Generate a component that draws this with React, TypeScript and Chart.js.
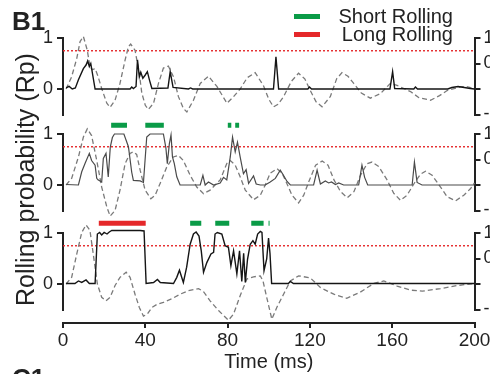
import React, { useEffect, useRef } from 'react';
import { Chart, registerables } from 'chart.js';

Chart.register(...registerables);

type Pt = [number, number];

const FONT = '"Liberation Sans", Arial, Helvetica, sans-serif';
const AXIS = '#222222';
const GREEN = '#0a9b47';
const RED = '#e5282a';
const DASH_GRAY = '#7a7a7a';

// ---------- data ----------
const timeTicks = [0, 40, 80, 120, 160, 200];
const leftTicks = [0, 1];
const rightTicks = [-0.5, 0, 0.5, 1];
const rightTickLabels = ['-0.5', '', '0.5', '1'];
const threshold = 0.75;
const legendLabels = ['Short Rolling', 'Long Rolling'];

const panel1Rp: Pt[] = [
  [1.5, 0.02], [3, 0.05], [4.5, 0], [6, 0.02], [7.5, 0.18], [9.9, 0.4], [11.2, 0.47], [12, 0.55],
  [12.8, 0.44], [13.5, 0.5], [15.6, 0], [32.6, 0], [33.4, 0.04], [34.2, 0.01], [35.5, 0.05], [36.2, 0.57],
  [37.1, 0.24], [37.8, 0.33], [38.8, 0.21], [39.9, 0.27], [41, 0.34], [42, 0.18], [43.2, 0.01], [51, 0.02],
  [52.1, 0.34], [53.5, 0.03], [61, 0], [62, 0.02], [63, 0], [102.3, 0], [103.5, 0.63], [104.8, 0],
  [119, 0], [119.8, 0.04], [120.8, 0], [158.9, 0], [160.2, 0.34], [161.2, 0.01], [170.5, 0], [171.3, 0.04],
  [172.3, 0], [187, 0], [189, 0.03], [192, 0.05], [195, 0.03], [198, 0.01], [200, 0],
];
const panel1Osc: Pt[] = [
  [1.5, 0], [4.2, 0.24], [6.7, 0.6], [8.3, 0.93], [9.9, 1.03], [11.8, 0.76], [13.1, 0.44], [14.3, 0.38],
  [15.6, 0.4], [17, 0.25], [18.8, 0.01], [21.3, -0.28], [22.9, -0.36], [25.3, -0.22], [27.7, 0.11], [30.2, 0.57],
  [31.8, 0.83], [32.9, 0.88], [35, 0.76], [37, 0.33], [38.3, -0.08], [40, -0.32], [41.5, -0.4], [44, -0.28],
  [46.4, 0.11], [48.8, 0.41], [51.2, 0.45], [53.7, 0.24], [56.1, -0.15], [58.5, -0.38], [60.2, -0.45], [63.4, -0.22],
  [66.7, 0.11], [70.7, 0.25], [74.8, 0.05], [79.7, -0.28], [82.9, -0.15], [86.1, 0], [89.5, 0.22], [93.4, 0.32],
  [97.5, 0.06], [100, -0.2], [102.3, -0.35], [104.5, -0.3], [107.2, -0.15], [111, 0.15], [114.5, 0.31], [117.5, 0.2],
  [120.2, -0.03], [123, -0.25], [125.9, -0.35], [129.9, -0.15], [133, 0.2], [135.6, 0.32], [138.5, 0.25], [141.3, 0.11],
  [145, -0.08], [149.4, -0.18], [154.3, -0.09], [159.1, 0.11], [162.4, 0.07], [168.9, -0.05], [173, -0.17], [178.6, -0.22],
  [183, -0.13], [186.7, -0.03], [193.2, 0.04], [196, 0.05], [200, 0.01],
];

const panel2Rp: Pt[] = [
  [1.5, 0.01], [7.5, 0], [9.1, 0.26], [10.7, 0.42], [12.8, 0.62], [13.9, 0.48], [15.6, 0.39], [16.4, 0.13],
  [17, 0.1], [18.8, 0.06], [19.6, 0.52], [20.9, 0.62], [22, 0.16], [23, 0.75], [24, 0.93], [25, 1],
  [29.6, 1], [31.8, 0.75], [33.4, 0.25], [34.2, 0.09], [37.5, 0.08], [39.1, 0.05], [40.7, 0.94], [42.3, 1],
  [48.8, 1], [50, 0.73], [50.7, 0.42], [51.7, 0.81], [52.5, 0.98], [53.2, 0.55], [54.1, 0.42], [55.3, 0.16],
  [56.9, 0], [66.7, 0], [68, 0.19], [69.1, 0], [70.7, 0.06], [73.2, 0], [76.4, 0.04], [78, 0.15],
  [79.6, 0.1], [81.3, 0.55], [82.4, 0.94], [83.7, 0.65], [84.8, 0.84], [86.1, 0.55], [87.7, 0.22], [89, 0.3],
  [90.2, 0.03], [92.6, 0.18], [93.9, 0.02], [95.9, 0], [98.3, 0], [100.7, 0.06], [103.2, 0.13], [105.6, 0.29],
  [107, 0.2], [108.9, 0.07], [110.5, 0], [121.8, 0], [123.5, 0.29], [125.1, 0.02], [127.5, 0.08], [129.1, 0.04],
  [130.5, 0.06], [132.4, 0.01], [134, 0.04], [136.4, 0], [143.7, 0], [145.3, 0.39], [146.6, 0.15], [148.1, 0],
  [169.7, 0], [170.8, 0.45], [172.1, 0.05], [174.5, 0], [200, 0],
];
const panel2Osc: Pt[] = [
  [1.5, 0], [4.2, 0.13], [7.5, 0.55], [9.9, 0.94], [11.8, 1.1], [13.9, 0.97], [16.4, 0.48], [18.8, -0.04],
  [21.3, -0.43], [22.9, -0.61], [25.3, -0.5], [27.7, -0.1], [30.2, 0.42], [32.6, 0.62], [34.2, 0.65], [35.8, 0.6],
  [37.5, 0.29], [39.9, -0.1], [42.7, -0.27], [44.8, -0.2], [47.2, 0.03], [50.4, 0.35], [53.6, 0.55], [56.1, 0.58],
  [58.5, 0.48], [61.8, 0.19], [65, -0.04], [68.3, -0.17], [71.5, -0.1], [76.4, 0.1], [79.6, 0.42], [81.3, 0.48],
  [83.7, 0.39], [86.1, 0.16], [88.6, -0.1], [92.6, -0.29], [95.9, -0.2], [98.3, 0], [100.7, 0.23], [104, 0.32],
  [106.5, 0.23], [108.9, 0.02], [111.3, -0.2], [114.5, -0.35], [117, -0.2], [119.5, 0.07], [122.8, 0.39], [126, 0.47],
  [128.8, 0.39], [131.7, 0.1], [134.9, -0.13], [138.2, -0.25], [141.4, -0.13], [144.6, 0.19], [147.8, 0.42], [150.2, 0.45],
  [153.5, 0.36], [157.5, 0.1], [160.7, -0.16], [164, -0.3], [167.2, -0.2], [170.5, 0.02], [173.7, 0.21], [176.2, 0.27],
  [179.4, 0.19], [183.5, -0.04], [186.7, -0.23], [190.8, -0.31], [194.8, -0.2], [198.1, -0.07], [200, 0.04],
];
const panel2Short: Pt[] = [[23.4, 31.1], [40, 49], [80.1, 81.8], [83.7, 85.6]];

const panel3Rp: Pt[] = [
  [1.5, 0.01], [5.8, 0.01], [7.5, 0.06], [9.1, 0.03], [11.2, 0.08], [12.8, 0.01], [15.6, 0.01], [16.7, 0.98],
  [17.8, 1.01], [18.8, 0.96], [20, 1.01], [21.4, 0.98], [22.5, 1.02], [23.7, 1.05], [37.5, 1.05], [39.4, 1.04],
  [40.4, 0.01], [44, 0.03], [45.9, 0.09], [47.3, 0.03], [53.7, 0.01], [55.3, 0.13], [56.6, 0.27], [58.5, 0.03],
  [60.1, 0.33], [61.8, 0.78], [63.4, 0.98], [64.7, 1.02], [66.1, 0.94], [67.2, 0.65], [68.3, 0.23], [69.9, 0.42],
  [71.9, 0.59], [73.2, 0.62], [73.9, 0.98], [75, 1.01], [77.2, 0.98], [78.8, 0.75], [80.4, 0.72], [81.6, 0.36],
  [82.9, 0.65], [84.5, 0.2], [85.8, 0.65], [86.9, 0.05], [87.8, 0.6], [88.6, 0.03], [89.7, 0.49], [91, 0.78],
  [92.3, 0.85], [93.4, 0.78], [94.6, 0.98], [95.9, 1.03], [96.7, 1.01], [97.7, 0.26], [99, 0.49], [99.9, 0.9],
  [100.6, 0.6], [101.4, 0.01], [109.5, 0.01], [110.5, 0.05], [112, 0.01], [200, 0.01],
];
const panel3Osc: Pt[] = [
  [1.5, 0], [4.2, 0.13], [6.7, 0.59], [9.1, 1.01], [11.2, 1.16], [13.1, 1.05], [14.7, 0.59], [16.7, 0],
  [18.8, -0.26], [20.9, -0.33], [22.9, -0.26], [25.3, -0.03], [27.7, 0.13], [30.7, 0.23], [32.6, 0.13], [35, -0.2],
  [37.1, -0.46], [39.1, -0.63], [41, -0.59], [43.2, -0.46], [45.6, -0.4], [48.8, -0.36], [52.9, -0.29], [56.9, -0.2],
  [61, -0.13], [65.9, -0.09], [68.3, -0.15], [71.5, -0.33], [75.6, -0.52], [80.4, -0.71], [82.9, -0.59], [86.1, -0.23],
  [89.4, 0.1], [92.6, 0.14], [95.9, 0.16], [97.2, 0.06], [99, -0.26], [101.5, -0.69], [103.9, -0.46], [107.2, -0.2],
  [110.5, 0.06], [114.5, 0.16], [120.2, 0.12], [125.1, -0.07], [131.6, -0.2], [137.9, -0.28], [144.5, -0.16], [151, 0.01],
  [155.9, 0.06], [162.4, -0.04], [168.9, -0.12], [174.6, -0.14], [183.5, -0.09], [191.6, -0.03], [200, 0.01],
];
const panel3Long: Pt[] = [[17.4, 40.2]];
const panel3Short: Pt[] = [[61.8, 67.2], [74, 80.8], [91.5, 97.5], [99.9, 100.4]];

const barLevel2 = 1.17;
const barLevel3 = 1.19;

// ---------- layout constants ----------
const CANVAS_W = 530;
const LEFT_W = 63;
const RIGHT_W = 55.5;

function lineDs(data: Pt[], color: string, width: number, dash: number[] = []) {
  return {
    type: 'line' as const,
    data: data.map(([x, y]) => ({ x, y })),
    borderColor: color,
    borderWidth: width,
    borderDash: dash,
    pointRadius: 0,
    tension: 0,
    fill: false,
    clip: false as any,
    yAxisID: 'y',
  };
}

function barDs(segs: Pt[], level: number, color: string) {
  return {
    type: 'line' as const,
    data: segs.flatMap(([a, b]) => [
      { x: a, y: level },
      { x: b, y: level },
      { x: b, y: null as any },
    ]),
    borderColor: color,
    borderWidth: 5,
    borderCapStyle: 'butt' as const,
    pointRadius: 0,
    spanGaps: false,
    fill: false,
    clip: false as any,
    yAxisID: 'y',
  };
}

function thresholdDs() {
  return lineDs([[0, threshold], [200, threshold]], RED, 1.4, [2, 2]);
}

function yScales(visible: boolean) {
  return {
    y: {
      type: 'linear' as const,
      position: 'left' as const,
      min: -0.5,
      max: 1,
      afterBuildTicks: (s: any) => {
        s.ticks = leftTicks.map((v) => ({ value: v }));
      },
      afterFit: (s: any) => {
        s.width = LEFT_W;
      },
      ticks: {
        display: visible,
        callback: (v: any) => String(v),
        font: { family: FONT, size: 18 },
        color: AXIS,
        padding: 4,
      },
      grid: { display: visible, drawOnChartArea: false, drawTicks: true, tickLength: 6, color: AXIS, lineWidth: 2 },
      border: { display: visible, color: AXIS, width: 2 },
    },
    y2: {
      type: 'linear' as const,
      position: 'right' as const,
      min: -0.5,
      max: 1,
      afterBuildTicks: (s: any) => {
        s.ticks = rightTicks.map((v) => ({ value: v }));
      },
      afterFit: (s: any) => {
        s.width = RIGHT_W;
      },
      ticks: {
        display: visible,
        callback: (v: any) => rightTickLabels[rightTicks.indexOf(Number(v))] ?? '',
        font: { family: FONT, size: 18 },
        color: AXIS,
        padding: 3,
      },
      grid: { display: visible, drawOnChartArea: false, drawTicks: true, tickLength: 6, color: AXIS, lineWidth: 2 },
      border: { display: visible, color: AXIS, width: 2 },
    },
  };
}

function panelConfig(datasets: any[]): any {
  return {
    type: 'line',
    data: { datasets },
    options: {
      animation: false,
      responsive: false,
      devicePixelRatio: 1,
      events: [],
      layout: { padding: { top: 25, bottom: 20.5, left: 0, right: 0 } },
      plugins: { legend: { display: false }, tooltip: { enabled: false } },
      scales: {
        x: { type: 'linear', min: 0, max: 200, display: false },
        ...yScales(true),
      },
    },
  };
}

function axisConfig(): any {
  return {
    type: 'line',
    data: { datasets: [] },
    options: {
      animation: false,
      responsive: false,
      devicePixelRatio: 1,
      events: [],
      layout: { padding: 0 },
      plugins: { legend: { display: false }, tooltip: { enabled: false } },
      scales: {
        x: {
          type: 'linear',
          position: 'bottom',
          min: 0,
          max: 200,
          afterBuildTicks: (s: any) => {
            s.ticks = timeTicks.map((v) => ({ value: v }));
          },
          afterFit: (s: any) => {
            s.height = 51;
          },
          ticks: { font: { family: FONT, size: 19 }, color: AXIS, padding: 1, maxRotation: 0 },
          grid: { drawOnChartArea: false, drawTicks: true, tickLength: 5, color: AXIS, lineWidth: 2 },
          border: { color: AXIS, width: 2 },
          title: {
            display: true,
            text: 'Time (ms)',
            font: { family: FONT, size: 20 },
            color: AXIS,
            padding: { top: 0, bottom: 0 },
          },
        },
        ...yScales(false),
      },
    },
  };
}

function ChartCanvas({ make, top, height }: { make: () => any; top: number; height: number }) {
  const ref = useRef<HTMLCanvasElement>(null);
  useEffect(() => {
    if (!ref.current) return;
    const chart = new Chart(ref.current, make());
    return () => chart.destroy();
  }, []);
  return (
    <canvas
      ref={ref}
      width={CANVAS_W}
      height={height}
      style={{ position: 'absolute', left: 0, top, display: 'block' }}
    />
  );
}

const panel1 = () =>
  panelConfig([lineDs(panel1Rp, '#151515', 1.4), lineDs(panel1Osc, DASH_GRAY, 1.3, [5, 3]), thresholdDs()]);
const panel2 = () =>
  panelConfig([
    lineDs(panel2Rp, '#4a4a4a', 1.2),
    lineDs(panel2Osc, DASH_GRAY, 1.3, [5, 3]),
    thresholdDs(),
    barDs(panel2Short, barLevel2, GREEN),
  ]);
const panel3 = () =>
  panelConfig([
    lineDs(panel3Rp, '#151515', 1.4),
    lineDs(panel3Osc, DASH_GRAY, 1.3, [5, 3]),
    thresholdDs(),
    barDs(panel3Long, barLevel3, RED),
    barDs(panel3Short, barLevel3, GREEN),
  ]);

export default function App() {
  return (
    <div
      style={{
        position: 'fixed',
        left: 0,
        top: 0,
        width: 490,
        height: 374,
        overflow: 'hidden',
        background: '#ffffff',
        fontFamily: FONT,
        color: AXIS,
      }}
    >
      <ChartCanvas make={panel1} top={13} height={122} />
      <ChartCanvas make={panel2} top={109} height={122} />
      <ChartCanvas make={panel3} top={208} height={122} />
      <ChartCanvas make={axisConfig} top={312} height={62} />

      <div style={{ position: 'absolute', left: 12, top: 8, fontSize: 26, lineHeight: '26px', fontWeight: 'bold', whiteSpace: 'nowrap' }}>
        B1
      </div>
      <div style={{ position: 'absolute', left: 12, top: 365, fontSize: 26, lineHeight: '26px', fontWeight: 'bold', whiteSpace: 'nowrap' }}>
        C1
      </div>

      <div
        style={{
          position: 'absolute',
          left: 25.3 - 150,
          top: 179 - 12.5,
          width: 300,
          height: 25,
          lineHeight: '25px',
          fontSize: 25,
          textAlign: 'center',
          whiteSpace: 'nowrap',
          transform: 'rotate(-90deg)',
          transformOrigin: '50% 50%',
        }}
      >
        Rolling probability (Rp)
      </div>

      <div style={{ position: 'absolute', left: 294, top: 14, width: 26, height: 5, background: GREEN }} />
      <div style={{ position: 'absolute', left: 294, top: 31.5, width: 26, height: 5, background: RED }} />
      <div style={{ position: 'absolute', left: 300, width: 153, top: 5.6, fontSize: 20, lineHeight: '20px', textAlign: 'right', whiteSpace: 'nowrap' }}>
        {legendLabels[0]}
      </div>
      <div style={{ position: 'absolute', left: 300, width: 153, top: 23.6, fontSize: 20, lineHeight: '20px', textAlign: 'right', whiteSpace: 'nowrap' }}>
        {legendLabels[1]}
      </div>
    </div>
  );
}
